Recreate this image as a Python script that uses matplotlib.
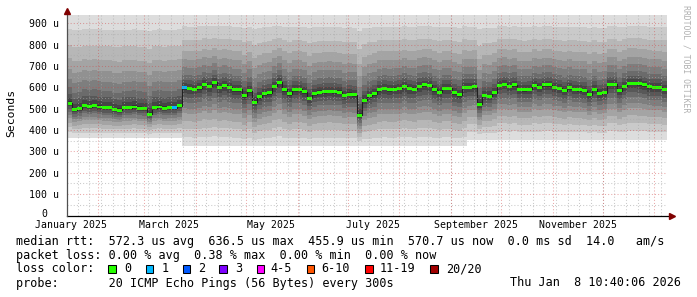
import numpy as np
import pandas as pd
import matplotlib
matplotlib.use("Agg")
import matplotlib.pyplot as plt
import matplotlib.dates as mdates
from matplotlib.patches import Rectangle

# ---------------- data ----------------
graph_start = "2025-01-13 10:40:06"
step_days = 3
# median RTT per 3-day step (microseconds)
median_us = [
    525, 495, 500, 515, 510, 515, 508, 505, 505, 495,
    492, 505, 505, 508, 502, 500, 475, 505, 508, 502,
    505, 505, 515, 598, 595, 592, 598, 615, 605, 625,
    600, 610, 600, 590, 590, 560, 585, 530, 555, 570,
    575, 605, 625, 590, 570, 590, 590, 580, 548, 570,
    578, 580, 582, 580, 578, 562, 568, 565, 470, 540,
    560, 570, 590, 595, 590, 592, 595, 605, 595, 592,
    605, 612, 610, 590, 578, 595, 595, 575, 565, 600,
    600, 602, 520, 560, 558, 575, 610, 615, 605, 612,
    590, 588, 590, 610, 600, 612, 612, 600, 595, 585,
    598, 590, 588, 585, 565, 590, 570, 575, 615, 615,
    585, 605, 620, 620, 618, 612, 602, 600, 600, 590,
]
# steps with lost pings: step index -> lost count
loss_steps = {21: 1, 23: 1}

# smoke envelope per period (absolute, microseconds)
period_start = ["2025-01-13", "2025-03-23", "2025-09-10"]
smoke_floor_us = [365, 325, 355]
smoke_ceiling_us = [940, 940, 938]
# position of ping pairs between median and envelope (outer -> inner)
smoke_lo_frac = [1.0, 0.85, 0.70, 0.57, 0.44, 0.35, 0.245, 0.165, 0.09, 0.036]
smoke_hi_frac = [1.0, 0.84, 0.66, 0.51, 0.39, 0.28, 0.18, 0.11, 0.06, 0.022]
smoke_gray = [221, 202, 183, 164, 145, 126, 107, 88, 69, 50]

loss_labels = ["0", "1", "2", "3", "4-5", "6-10", "11-19", "20/20"]
loss_colors = ["#26ff00", "#00b8ff", "#0059ff", "#7e00ff", "#ff00ff",
               "#ff5500", "#ff0000", "#a10000"]

ytick_vals = [0, 100, 200, 300, 400, 500, 600, 700, 800, 900]
xlabel_dates = ["2025-01-16", "2025-03-16", "2025-05-16", "2025-07-16",
                "2025-09-16", "2025-11-16"]
xlabel_text = ["January 2025", "March 2025", "May 2025", "July 2025",
               "September 2025", "November 2025"]

stats_line = ("median rtt:  572.3 us avg  636.5 us max  455.9 us min  "
              "570.7 us now  0.0 ms sd  14.0   am/s")
loss_line = "packet loss: 0.00 % avg  0.38 % max  0.00 % min  0.00 % now"
probe_line = "probe:       20 ICMP Echo Pings (56 Bytes) every 300s"
date_line = "Thu Jan  8 10:40:06 2026"

# ---------------- figure ----------------
W, H = 697, 297
MONO = "DejaVu Sans Mono"
fig = plt.figure(figsize=(W / 100, H / 100), dpi=100)
fig.patch.set_facecolor("white")

ax_l, ax_r, ax_b, ax_t = 66.7, 666.7, 215.5, 12.6
ax = fig.add_axes([ax_l / W, 1 - ax_b / H, (ax_r - ax_l) / W, (ax_b - ax_t) / H])
ymax = 950

med = np.array(median_us, dtype=float)
n = len(med)
edges = pd.date_range(pd.Timestamp(graph_start), periods=n + 1, freq=f"{step_days}D")
xe = mdates.date2num(edges)

# per-step envelope
pstarts = mdates.date2num(pd.to_datetime(period_start))
pid = np.searchsorted(pstarts, xe[:-1], side="right") - 1
floor = np.array(smoke_floor_us, float)[pid]
ceil = np.array(smoke_ceiling_us, float)[pid]

def ext(a):
    return np.append(a, a[-1])

for b in range(10):
    lo = med - smoke_lo_frac[b] * (med - floor)
    hi = med + smoke_hi_frac[b] * (ceil - med)
    g = smoke_gray[b] / 255
    ax.fill_between(xe, ext(lo), ext(hi), step="post", color=(g, g, g),
                    lw=0, zorder=1)

# dark median line
ax.step(xe, ext(med), where="post", color="#202020", lw=0.8, zorder=2)
# loss-coloured median band
w = 7
cols = [loss_colors[loss_steps.get(i, 0)] for i in range(n)]
ax.bar(xe[:-1], 2 * w, bottom=med - w, width=step_days, align="edge",
       color=cols, lw=0, zorder=3)

# grid
month_starts = mdates.date2num(pd.date_range("2025-02-01", "2026-01-01", freq="MS"))
mondays = mdates.date2num(pd.date_range("2025-01-20", "2026-01-05", freq="7D"))
gkw = dict(lw=0.75, linestyle=(0, (1, 2)), zorder=5)
ax.vlines(mondays, 0, ymax, color="#a8a8a8", alpha=0.6, **gkw)
ax.hlines(np.arange(50, ymax, 100), xe[0], xe[-1], color="#a8a8a8", alpha=0.6, **gkw)
ax.vlines(month_starts, 0, ymax, color="#d04040", alpha=0.45, **gkw)
ax.hlines(ytick_vals[1:], xe[0], xe[-1], color="#d04040", alpha=0.45, **gkw)

ax.set_xlim(xe[0], xe[-1])
ax.set_ylim(0, ymax)
for s in ax.spines.values():
    s.set_visible(False)
ax.set_facecolor("white")

ax.set_yticks(ytick_vals)
ax.set_yticklabels([""] + [f"{v} u" for v in ytick_vals[1:]],
                   family=MONO, fontsize=7.1)
ax.set_xticks(mdates.date2num(pd.to_datetime(xlabel_dates)))
ax.set_xticklabels(xlabel_text, family=MONO, fontsize=7.1)
ax.tick_params(axis="y", length=0, pad=5.3)
ax.tick_params(axis="x", length=0, pad=3.4)

# axes lines and arrows
ax.plot([0, 1.006], [0, 0], transform=ax.transAxes, color="black", lw=0.9,
        clip_on=False, zorder=6)
ax.plot([0, 0], [0, 1.0], transform=ax.transAxes, color="#505050", lw=0.9,
        clip_on=False, zorder=6)
ax.plot([1.008], [0], marker=">", color="#800000", markersize=4.5,
        transform=ax.transAxes, clip_on=False, zorder=7)
ax.plot([0], [1.008], marker="^", color="#800000", markersize=4.5,
        transform=ax.transAxes, clip_on=False, zorder=7)

# texts
def ftext(x, y, s, **kw):
    kw.setdefault("family", MONO)
    return fig.text(x / W, 1 - y / H, s, **kw)

# zero label of the y axis (left of the unit column, as rrdtool draws it)
ftext(47.3, 214.0, "0", ha="right", va="center", fontsize=7.1)

ftext(11, 113, "Seconds", rotation=90, ha="center", va="center", fontsize=8.2)
ftext(686, 5, "RRDTOOL / TOBI OETIKER", rotation=270, ha="center", va="top",
      fontsize=5.9, color="#b0b0b0")

fs = 8.5
ftext(15.5, 241, stats_line, va="center", fontsize=fs)
ftext(15.5, 255, loss_line, va="center", fontsize=fs)
ftext(15.5, 269, "loss color:", va="center", fontsize=fs)
ftext(15.5, 283, probe_line, va="center", fontsize=fs)
ftext(681, 283, date_line, va="center", ha="right", fontsize=fs)

box_x = [108.3, 145.7, 182.7, 219.3, 256.7, 306.7, 365.0, 430.0]
lab_x = [124.0, 161.7, 198.3, 235.0, 270.7, 321.7, 380.0, 446.0]
for bx, lx, c, lab in zip(box_x, lab_x, loss_colors, loss_labels):
    fig.add_artist(Rectangle((bx / W, 1 - 273 / H), 7.7 / W, 7.7 / H,
                             transform=fig.transFigure, facecolor=c,
                             edgecolor="black", lw=0.75))
    ftext(lx, 269, lab, va="center", fontsize=fs)

fig.savefig("out.png", dpi=100, facecolor="white")
